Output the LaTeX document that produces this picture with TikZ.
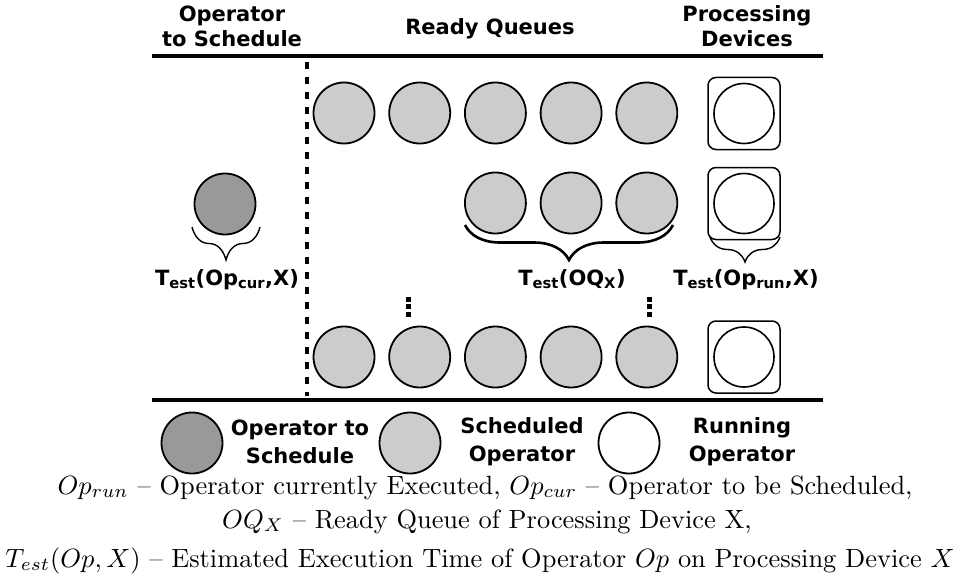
\documentclass[tikz,border=0pt]{standalone}
\usepackage{graphicx}
\usepackage{fontspec}
\newfontfamily\diafont{DejaVu Sans}
\usetikzlibrary{decorations.pathreplacing}
\definecolor{opdark}{HTML}{999999}
\definecolor{oplight}{HTML}{CCCCCC}
\newcommand\notetext[1]{\scalebox{2.64}{#1}}
\begin{document}
\begin{tikzpicture}[x=1pt,y=-1pt,
  hdr/.style={font=\diafont\bfseries\fontsize{21}{25}\selectfont, align=center, inner sep=0pt},
  lbl/.style={font=\diafont\bfseries\fontsize{21}{25}\selectfont, inner sep=0pt},
  lgd/.style={font=\diafont\bfseries\fontsize{21}{28}\selectfont, align=center, inner sep=0pt},
  opnode/.style={circle, draw, line width=1.8pt, minimum size=61pt, inner sep=0pt},
  tosched/.style={opnode, fill=opdark},
  queued/.style={opnode, fill=oplight},
  running/.style={opnode, fill=white},
  devbox/.style={draw, line width=1.5pt, rounded corners=8pt, minimum size=72pt, inner sep=0pt},
  rule/.style={line width=3.2pt},
  sepline/.style={line width=3.4pt, dash pattern=on 7pt off 8pt},
  curly/.style={decorate, decoration={brace, amplitude=#1}},
  curly/.default=30pt,
  note/.style={font=\fontsize{10}{12}\selectfont, inner sep=0pt}
]
\useasboundingbox (0,0) rectangle (966,583);

% column headings (base anchor sits on the last line)
\node[hdr, anchor=base] (hsched) at (232,47) {Operator\\to Schedule};
\node[hdr, anchor=base] (hqueue) at (490,35) {Ready Queues};
\node[hdr, anchor=base] (hdev) at (747,47) {Processing\\Devices};

% horizontal rules and the dashed separator
\coordinate (rtl) at (152,56); \coordinate (rtr) at (823,56);
\coordinate (rbl) at (152,400); \coordinate (rbr) at (823,400);
\draw[rule] (rtl) -- (rtr);
\draw[rule] (rbl) -- (rbr);
\coordinate (dtop) at (307,62); \coordinate (dbot) at (307,396);
\draw[sepline] (dtop) -- (dbot);

% ready queues
\foreach \i/\x in {1/344,2/419.7,3/495.4,4/571.1,5/646.8}
  \node[queued] (qa\i) at (\x,113) {};
\foreach \i/\x in {3/495.4,4/571.1,5/646.8}
  \node[queued] (qb\i) at (\x,203) {};
\foreach \i/\x in {1/344,2/419.7,3/495.4,4/571.1,5/646.8}
  \node[queued] (qc\i) at (\x,357) {};

% vertical ellipses between the queues
\foreach \x in {408.5,649}
  \foreach \y in {299.5,306.5,314}
    \fill (\x-2.5,\y-2.5) rectangle ++(5,5);

% processing devices with their running operators
\foreach \r/\y in {a/113.5,b/203.5,c/357}{
  \node[devbox] (box\r) at (744,\y) {};
  \node[running, minimum size=60pt, line width=1.6pt] (dev\r) at (box\r.center) {};
}

% operator waiting to be scheduled
\node[tosched] (cur) at (225,204) {};

% braces and estimated times
\coordinate (bca) at (260,227); \coordinate (bcb) at (192,227);
\draw[curly=33pt, line width=1.4pt] (bca) -- (bcb);
\node[lbl, anchor=base] (tcur) at (227,285) {T\textsubscript{est}(Op\textsubscript{cur},X)};

\coordinate (bqa) at (673,225); \coordinate (bqb) at (465,225);
\draw[curly=35pt, line width=2.6pt] (bqa) -- (bqb);
\node[lbl, anchor=base] (toq) at (572,285) {T\textsubscript{est}(OQ\textsubscript{X})};

\coordinate (bda) at (780,237); \coordinate (bdb) at (710,237);
\draw[curly=25pt, line width=1.4pt] (bda) -- (bdb);
\node[lbl, anchor=base] (trun) at (746,285) {T\textsubscript{est}(Op\textsubscript{run},X)};

% legend
\node[tosched] (lg1) at (192,443) {};
\node[lgd] (lgt1) at (300,442) {Operator to\\Schedule};
\node[queued] (lg2) at (410,443) {};
\node[lgd] (lgt2) at (522,442) {Scheduled\\Operator};
\node[running] (lg3) at (629,443) {};
\node[lgd] (lgt3) at (742,442) {Running\\Operator};

% notation
\node[note, anchor=base] (n1) at (485,494) {\notetext{$Op_{run}$ – Operator currently Executed, $Op_{cur}$ – Operator to be Scheduled,}};
\node[note, anchor=base] (n2) at (487,528) {\notetext{$OQ_X$ – Ready Queue of Processing Device X,}};
\node[note, anchor=base] (n3) at (480,567) {\notetext{$T_{est}(Op, X)$ – Estimated Execution Time of Operator $Op$ on Processing Device $X$}};
\end{tikzpicture}
\end{document}
